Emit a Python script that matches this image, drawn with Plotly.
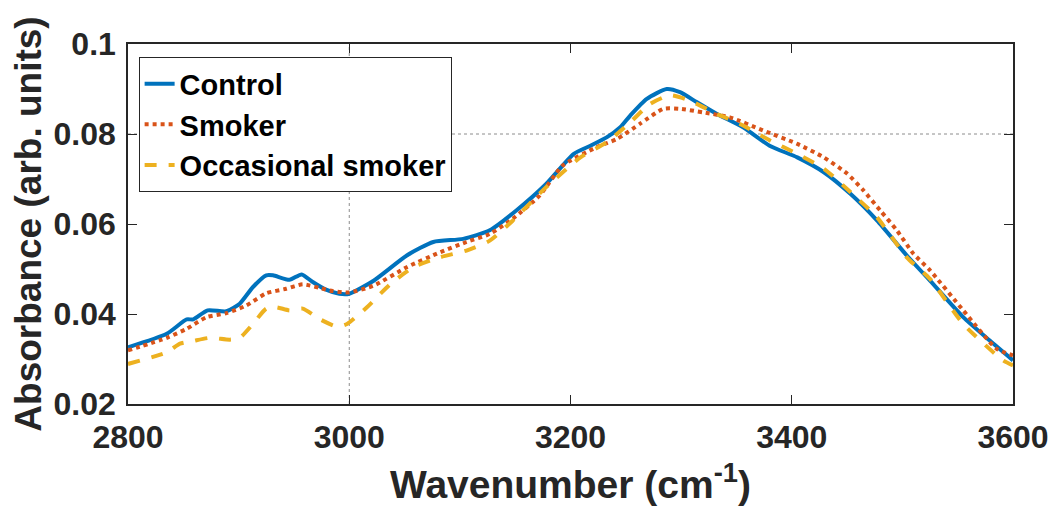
import plotly.graph_objects as go

# Control
control_x = [2800, 2835, 2853, 2859, 2872, 2889, 2901, 2913, 2925, 2931, 2946, 2957, 2967, 2979, 2991,
             3000, 3022, 3052, 3076, 3103, 3127, 3151, 3178, 3203, 3218, 3233, 3245, 3254, 3269, 3287,
             3299, 3314, 3332, 3356, 3380, 3405, 3429, 3453, 3477, 3504, 3525, 3555, 3579, 3600]
control_y = [0.0326, 0.0356, 0.0388, 0.0388, 0.0408, 0.0406, 0.0423, 0.0460, 0.0486, 0.0486, 0.0476, 0.0488,
             0.0471, 0.0454, 0.0445, 0.0445, 0.0474, 0.0530, 0.0560, 0.0567, 0.0586, 0.0630, 0.0689, 0.0756,
             0.0774, 0.0793, 0.0815, 0.0841, 0.0878, 0.0900, 0.0893, 0.0871, 0.0845, 0.0815, 0.0774, 0.0748,
             0.0715, 0.0667, 0.0608, 0.0530, 0.0474, 0.0393, 0.0341, 0.0297]

# Smoker
smoker_x = [2800, 2835, 2853, 2871, 2889, 2907, 2925, 2943, 2958, 2973, 2985, 3000, 3022, 3052, 3082,
            3106, 3127, 3148, 3172, 3193, 3224, 3242, 3263, 3284, 3299, 3320, 3344, 3374, 3405, 3429,
            3450, 3465, 3480, 3495, 3510, 3525, 3555, 3585, 3600]
smoker_y = [0.0319, 0.0347, 0.0367, 0.0393, 0.0402, 0.0419, 0.0446, 0.0456, 0.0466, 0.0458, 0.0451, 0.0448,
            0.0463, 0.0504, 0.0537, 0.0560, 0.0578, 0.0612, 0.0663, 0.0730, 0.0771, 0.0789, 0.0823, 0.0856,
            0.0856, 0.0848, 0.0837, 0.0808, 0.0778, 0.0748, 0.0712, 0.0674, 0.0630, 0.0586, 0.0534, 0.0497,
            0.0408, 0.0323, 0.0308]

# Occasional smoker
occ_x = [2800, 2835, 2847, 2859, 2874, 2892, 2901, 2913, 2925, 2934, 2946, 2958, 2973, 2989, 2998,
         3016, 3037, 3058, 3082, 3106, 3127, 3148, 3178, 3209, 3233, 3254, 3272, 3290, 3308, 3332,
         3356, 3380, 3405, 3429, 3453, 3477, 3504, 3525, 3555, 3591, 3600]
occ_y = [0.0289, 0.0315, 0.0334, 0.0340, 0.0347, 0.0343, 0.0347, 0.0378, 0.0412, 0.0415, 0.0408, 0.0412,
         0.0389, 0.0372, 0.0378, 0.0415, 0.0466, 0.0504, 0.0526, 0.0541, 0.0563, 0.0608, 0.0682, 0.0748,
         0.0782, 0.0826, 0.0867, 0.0886, 0.0874, 0.0845, 0.0819, 0.0786, 0.0756, 0.0723, 0.0671, 0.0615,
         0.0526, 0.0478, 0.0378, 0.0297, 0.0286]

x_ticks = [2800, 3000, 3200, 3400, 3600]
y_ticks = [0.02, 0.04, 0.06, 0.08, 0.1]
y_tick_labels = ["0.02", "0.04", "0.06", "0.08", "0.1"]

FONT = "Liberation Sans, Arial, sans-serif"

fig = go.Figure()
fig.add_trace(go.Scatter(x=control_x, y=control_y, mode="lines", name="Control",
                         line=dict(color="#0072BD", width=4, shape="spline", smoothing=0.6)))
fig.add_trace(go.Scatter(x=smoker_x, y=smoker_y, mode="lines", name="Smoker",
                         line=dict(color="#D95319", width=4, dash="dot", shape="spline", smoothing=0.6)))
fig.add_trace(go.Scatter(x=occ_x, y=occ_y, mode="lines", name="Occasional smoker",
                         line=dict(color="#EDB120", width=4, dash="dash", shape="spline", smoothing=0.6)))

# dotted reference grid lines
fig.add_shape(type="line", xref="x", yref="paper", x0=3000, x1=3000, y0=0, y1=1,
              line=dict(color="#8c8c8c", width=1, dash="dot"), layer="below")
fig.add_shape(type="line", xref="paper", yref="y", x0=0, x1=1, y0=0.08, y1=0.08,
              line=dict(color="#8c8c8c", width=1, dash="dot"), layer="below")

axis_common = dict(showgrid=False, zeroline=False, showline=True, mirror="ticks",
                   ticks="inside", ticklen=9, tickwidth=1, tickcolor="#262626",
                   linecolor="#262626", linewidth=1.5, automargin=False,
                   tickfont=dict(family=FONT, size=32, color="#262626", weight="bold"))

fig.update_xaxes(range=[2800, 3600], tickvals=x_ticks, ticktext=[str(v) for v in x_ticks],
                 ticklabelstandoff=4,
                 title=dict(text="Wavenumber (cm<sup>-1</sup>)", standoff=20,
                            font=dict(family=FONT, size=39, color="#262626", weight="bold")),
                 **axis_common)
fig.update_yaxes(range=[0.02, 0.1], tickvals=y_ticks, ticktext=y_tick_labels,
                 ticklabelstandoff=4,
                 title=dict(text="Absorbance (arb. units)", standoff=6,
                            font=dict(family=FONT, size=37, color="#262626", weight="bold")),
                 **axis_common)

fig.update_layout(
    width=1043, height=498,
    margin=dict(l=120, r=38, t=36, b=102),
    paper_bgcolor="white", plot_bgcolor="white",
    showlegend=True,
    legend=dict(x=0.012, y=0.963, xanchor="left", yanchor="top",
                bgcolor="white", bordercolor="#262626", borderwidth=1,
                font=dict(family=FONT, size=29, color="black", weight="bold"),
                tracegroupgap=0, itemwidth=30),
)

fig.write_html("out.html")
